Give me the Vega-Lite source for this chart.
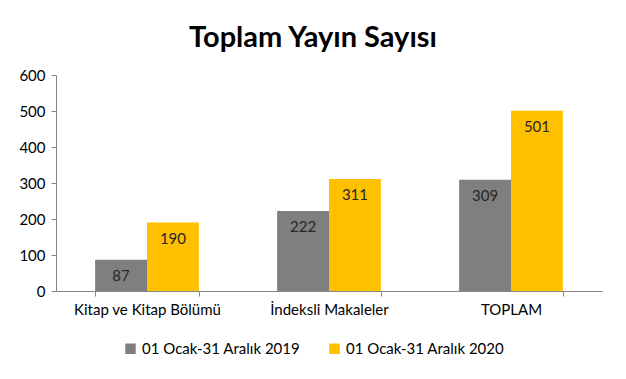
{
  "$schema": "https://vega.github.io/schema/vega-lite/v6.json",
  "width": 546,
  "height": 216,
  "autosize": {"type": "none"},
  "padding": {"left": 56, "top": 75, "right": 24, "bottom": 88},
  "background": "white",
  "config": {"view": {"stroke": null}},
  "title": {
    "text": "Toplam Yayın Sayısı",
    "font": "Lato",
    "fontSize": 29,
    "fontWeight": "bold",
    "color": "#000000",
    "anchor": "middle",
    "dx": -16,
    "offset": 15
  },
  "data": {
    "values": [
      {"kategori": "Kitap ve Kitap Bölümü", "donem": "01 Ocak-31 Aralık 2019", "sayi": 87},
      {"kategori": "Kitap ve Kitap Bölümü", "donem": "01 Ocak-31 Aralık 2020", "sayi": 190},
      {"kategori": "İndeksli Makaleler", "donem": "01 Ocak-31 Aralık 2019", "sayi": 222},
      {"kategori": "İndeksli Makaleler", "donem": "01 Ocak-31 Aralık 2020", "sayi": 311},
      {"kategori": "TOPLAM", "donem": "01 Ocak-31 Aralık 2019", "sayi": 309},
      {"kategori": "TOPLAM", "donem": "01 Ocak-31 Aralık 2020", "sayi": 501}
    ]
  },
  "encoding": {
    "x": {
      "field": "kategori",
      "type": "nominal",
      "sort": null,
      "scale": {"paddingInner": 0.43, "paddingOuter": 0.215},
      "axis": {
        "title": null,
        "labelAngle": 0,
        "labelFont": "Lato",
        "labelFontSize": 15,
        "labelColor": "#000000",
        "labelPadding": 6,
        "tickBand": "extent",
        "tickSize": 5,
        "tickColor": "#868686",
        "domainColor": "#868686",
        "grid": false
      }
    },
    "xOffset": {"field": "donem", "type": "nominal", "sort": null},
    "y": {
      "field": "sayi",
      "type": "quantitative",
      "scale": {"domain": [0, 600]},
      "axis": {
        "title": null,
        "values": [0, 100, 200, 300, 400, 500, 600],
        "grid": false,
        "labelFont": "Lato",
        "labelFontSize": 15,
        "labelColor": "#000000",
        "labelPadding": 6,
        "tickSize": 5,
        "tickColor": "#868686",
        "domainColor": "#868686"
      }
    }
  },
  "layer": [
    {
      "mark": {"type": "bar"},
      "encoding": {
        "color": {
          "field": "donem",
          "type": "nominal",
          "sort": null,
          "scale": {"range": ["#7f7f7f", "#ffc000"]},
          "legend": {
            "title": null,
            "orient": "none",
            "legendX": 67,
            "legendY": 266,
            "direction": "horizontal",
            "symbolType": "square",
            "symbolSize": 110,
            "symbolStrokeWidth": 0,
            "labelFont": "Lato",
            "labelFontSize": 15,
            "labelColor": "#000000",
            "columnPadding": 26
          }
        }
      }
    },
    {
      "mark": {"type": "text", "baseline": "top", "dy": 9, "font": "Lato", "fontSize": 15, "color": "#262626"},
      "encoding": {
        "text": {"field": "sayi", "type": "quantitative"}
      }
    }
  ]
}
